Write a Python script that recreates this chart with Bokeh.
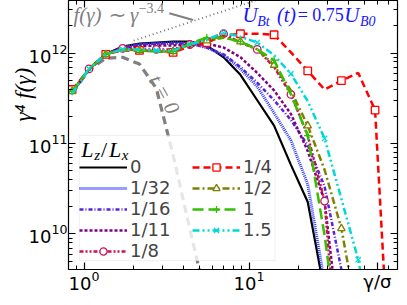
import numpy as np
from bokeh.plotting import figure
from bokeh.models import (Range1d, LogAxis, FixedTicker, Label, Legend, LegendItem,
                          BoxAnnotation)
from bokeh.embed import file_html
from bokeh.resources import INLINE

# ---------------- data ----------------
gamma = [0.847, 1.072, 1.355, 1.714, 2.168, 2.742, 3.467, 4.385, 5.546, 7.015,
         8.872, 11.22, 14.19, 17.95, 22.70, 28.71, 36.31, 45.92, 58.08, 73.45]

# log10 of gamma^4 f(gamma)
lg_t0 = [11.553, 11.813, 11.943, 11.953, 11.878, 11.61, 10.872, 10.05, 9.25]
lg_0 = [11.564, 11.824, 11.986, 12.072, 12.105, 12.116, 12.126, 12.126, 12.083, 11.953,
        11.759, 11.478, 11.197, 10.764, 10.353, 9.359]
lg_1_32 = [11.564, 11.824, 11.986, 12.061, 12.094, 12.105, 12.116, 12.105, 12.061, 11.975,
           11.824, 11.629, 11.337, 11.034, 10.548, 9.467]
lg_1_16 = [11.564, 11.824, 11.986, 12.061, 12.094, 12.105, 12.105, 12.105, 12.061, 11.986,
           11.845, 11.672, 11.478, 11.261, 10.98, 10.526, 9.607, 8.71]
lg_1_11 = [11.564, 11.824, 11.986, 12.051, 12.072, 12.083, 12.083, 12.094, 12.105, 12.061,
           11.953, 11.78, 11.586, 11.326, 10.916, 10.364, 8.764]
lg_1_8 = [11.575, 11.824, 11.986, 12.051, 12.04, 12.04, 12.04, 12.094, 12.148, 12.213,
          12.116, 12.04, 11.845, 11.543, 11.088, 10.364, 8.061]
lg_1_4 = [11.597, 11.813, 11.986, 12.029, 12.029, 12.018, 12.007, 12.072, 12.116, 12.191,
          12.213, 12.213, 12.202, 12.007, 11.802, 11.597, 11.694, 11.78, 11.37, 7.997]
lg_1_2 = [11.575, 11.824, 11.986, 12.04, 12.029, 12.018, 12.018, 12.094, 12.137, 12.17,
          12.126, 12.04, 11.867, 11.586, 11.197, 10.71, 10.061, 9.034]
lg_1 = [11.575, 11.824, 11.986, 12.04, 12.029, 12.018, 12.018, 12.105, 12.17, 12.17,
        12.126, 12.04, 11.921, 11.543, 11.088, 9.986, 8.602]
lg_1_5 = [11.553, 11.824, 11.986, 12.04, 12.04, 12.029, 12.029, 12.094, 12.148, 12.224,
          12.18, 12.116, 11.975, 11.77, 11.467, 11.056, 10.386, 9.716, 8.71]

labels = ["0", "1/32", "1/16", "1/11", "1/8", "1/4", "1/2", "1", "1.5"]
series = [lg_0, lg_1_32, lg_1_16, lg_1_11, lg_1_8, lg_1_4, lg_1_2, lg_1, lg_1_5]

# power-law guide f ~ gamma^-3.4
pl_gamma = [2.0, 11.0]
pl_index = -3.4
pl_amp = 9.04e11

x_ticks = [1, 10]
x_minor = [0.9, 2, 3, 4, 5, 6, 7, 8, 9, 20, 30, 40, 50, 60, 70]
x_name_at = 60          # the x-axis name sits at the right end of the tick-label row
x_name = "γ/σ"
y_ticks = [1e10, 1e11, 1e12]
y_minor = [5e9, 6e9, 7e9, 8e9, 9e9, 2e10, 3e10, 4e10, 5e10, 6e10, 7e10, 8e10, 9e10,
           2e11, 3e11, 4e11, 5e11, 6e11, 7e11, 8e11, 9e11, 2e12, 3e12]

# ---------------- styles ----------------
styles = [
    dict(color="black", dash="solid", width=2.2, marker=None),
    dict(color="#2f3cff", dash="1 1", width=3.0, marker=None),
    dict(color="#5522dd", dash="4 2 1 2", width=2.5, marker=None),
    dict(color="#800080", dash="3 2", width=2.5, marker=None),
    dict(color="#cc1155", dash="4 2 2 2 2 2", width=2.5, marker="circle", start=1),
    dict(color="#ff0000", dash="7 4", width=2.5, marker="square", start=0),
    dict(color="#808000", dash="7 3 2 3", width=2.5, marker="triangle", start=0),
    dict(color="#33c000", dash="11 5", width=2.5, marker="cross", start=0),
    dict(color="#00d8d8", dash="7 3 2 3 2 3", width=2.5, marker="x", start=1),
]


# reference-pixel -> data helpers (for placing annotation texts)
def gx(wx):
    return 10 ** ((wx - 86.7) / 167.0)


def gy(wy):
    return 10 ** (12 - (wy - 55.7) / 92.5)


p = figure(x_axis_type="log", y_axis_type="log",
           x_range=Range1d(gx(71), gx(404)), y_range=Range1d(gy(277), gy(2)),
           width=399, height=297, output_backend="svg", toolbar_location=None,
           min_border_left=68, min_border_right=2, min_border_top=0, min_border_bottom=28)
p.xgrid.visible = False
p.ygrid.visible = False
p.outline_line_color = "black"
p.background_fill_color = "white"
p.border_fill_color = "white"

xt_bottom = FixedTicker(ticks=x_ticks + [x_name_at],
                        minor_ticks=[t for t in x_minor if t != x_name_at])
xt_top = FixedTicker(ticks=x_ticks, minor_ticks=x_minor)
yt = FixedTicker(ticks=y_ticks, minor_ticks=y_minor)


def style_axis(ax, ticker, show):
    ax.ticker = ticker
    ax.major_tick_in = 7
    ax.major_tick_out = 0
    ax.minor_tick_in = 4
    ax.minor_tick_out = 0
    ax.major_tick_line_color = "black"
    ax.minor_tick_line_color = "black"
    ax.major_tick_line_width = 1.2
    ax.minor_tick_line_width = 1
    ax.axis_line_color = "black"
    ax.axis_line_width = 1.2
    if show:
        ax.major_label_text_font = "DejaVu Sans"
        ax.major_label_text_font_size = "18px"
        ax.major_label_text_color = "black"
        ax.major_label_standoff = 1
    else:
        ax.major_label_text_font_size = "1px"
        ax.major_label_text_alpha = 0
        ax.major_label_standoff = 0


style_axis(p.xaxis[0], xt_bottom, True)
p.xaxis[0].major_label_overrides = {x_name_at: x_name}
style_axis(p.yaxis[0], yt, True)
top_ax = LogAxis()
right_ax = LogAxis()
style_axis(top_ax, xt_top, False)
style_axis(right_ax, yt, False)
p.add_layout(top_ax, "above")
p.add_layout(right_ax, "right")

serif = "Liberation Serif"
EM = "\u2003"

# y axis label (leading em-spaces shift the visible text upwards, as in the reference)
p.yaxis[0].axis_label = EM * 3 + "\u2002" + "γ⁴ f(γ)"
p.yaxis[0].axis_label_text_font = serif
p.yaxis[0].axis_label_text_font_style = "italic"
p.yaxis[0].axis_label_text_font_size = "23px"
p.yaxis[0].axis_label_text_color = "black"
p.yaxis[0].axis_label_standoff = -10

# t = 0 curve
g0 = gamma[:len(lg_t0)]
p.line(g0, [10 ** v for v in lg_t0], line_color="#808080", line_width=3.2, line_dash="8 5")

# power-law guide
pl_y = [pl_amp * g ** (4 + pl_index) for g in pl_gamma]
p.line(pl_gamma, pl_y, line_color="#707070", line_width=2, line_dash="1 3")

items = []
for lab_, lg, st in zip(labels, series, styles):
    gx_ = gamma[:len(lg)]
    gy_ = [10 ** v for v in lg]
    r = p.line(gx_, gy_, line_color=st["color"], line_width=st["width"], line_dash=st["dash"])
    rs = [r]
    if st["marker"]:
        s0 = st["start"]
        m = p.scatter(gx_[s0::2], gy_[s0::2], marker=st["marker"], size=7.5,
                      line_color=st["color"], fill_color="white", line_width=1.3)
        rs.append(m)
    items.append(LegendItem(label=lab_, renderers=rs))

# legend frame drawn as a box so that the legend title can sit on top of it
p.add_layout(BoxAnnotation(left=gx(82), right=gx(280), top=gy(140), bottom=gy(268),
                           fill_color="white", fill_alpha=0.8,
                           line_color="#cccccc", line_width=1))

legend = Legend(items=items, location=(11, 8), ncols=2, title=" ",
                label_text_font="DejaVu Sans", label_text_font_size="18px",
                title_text_font_size="20px", title_standoff=6,
                glyph_width=48, glyph_height=18, label_height=18, label_width=62,
                label_standoff=3, spacing=-3, padding=2, margin=0,
                border_line_color=None, background_fill_alpha=0)
p.add_layout(legend)


def lab(wx, wy, text, size, color="black", style="italic", align="left", angle=0.0,
        baseline="middle"):
    p.add_layout(Label(x=gx(wx), y=gy(wy), text=text, text_font=serif,
                       text_font_style=style, text_font_size=f"{size}px",
                       text_color=color, text_align=align, text_baseline=baseline,
                       angle=angle))


# power-law annotation
lab(76, 17, "f(γ) ∼ γ", 21, color="#808080")
lab(142, 10, "−3.4", 14, color="#808080", style="normal")
p.line([gx(173), gx(197)], [gy(15), gy(22)], line_color="#808080", line_width=2)

# U_Bt(t) = 0.75 U_B0
blue = "#1515ff"
lab(247, 17, "U", 21, color=blue)
lab(262, 23, "Bt", 14, color=blue)
lab(282, 17, "(t)", 20, color=blue)
lab(303, 17, "= 0.75", 18, color=blue, style="normal")
lab(350, 17, "U", 21, color=blue)
lab(366, 23, "B0", 14, color=blue)

# t = 0
lab(168, 98, "t = 0", 21, color="#808080", angle=-1.07, align="center")

# legend title L_z / L_x
lab(84, 154, "L", 22)
lab(97, 160, "z", 15)
lab(104, 154, "/", 22, style="normal")
lab(112, 154, "L", 22)
lab(125, 160, "x", 15)

open("out.html", "w").write(file_html(p, INLINE))
